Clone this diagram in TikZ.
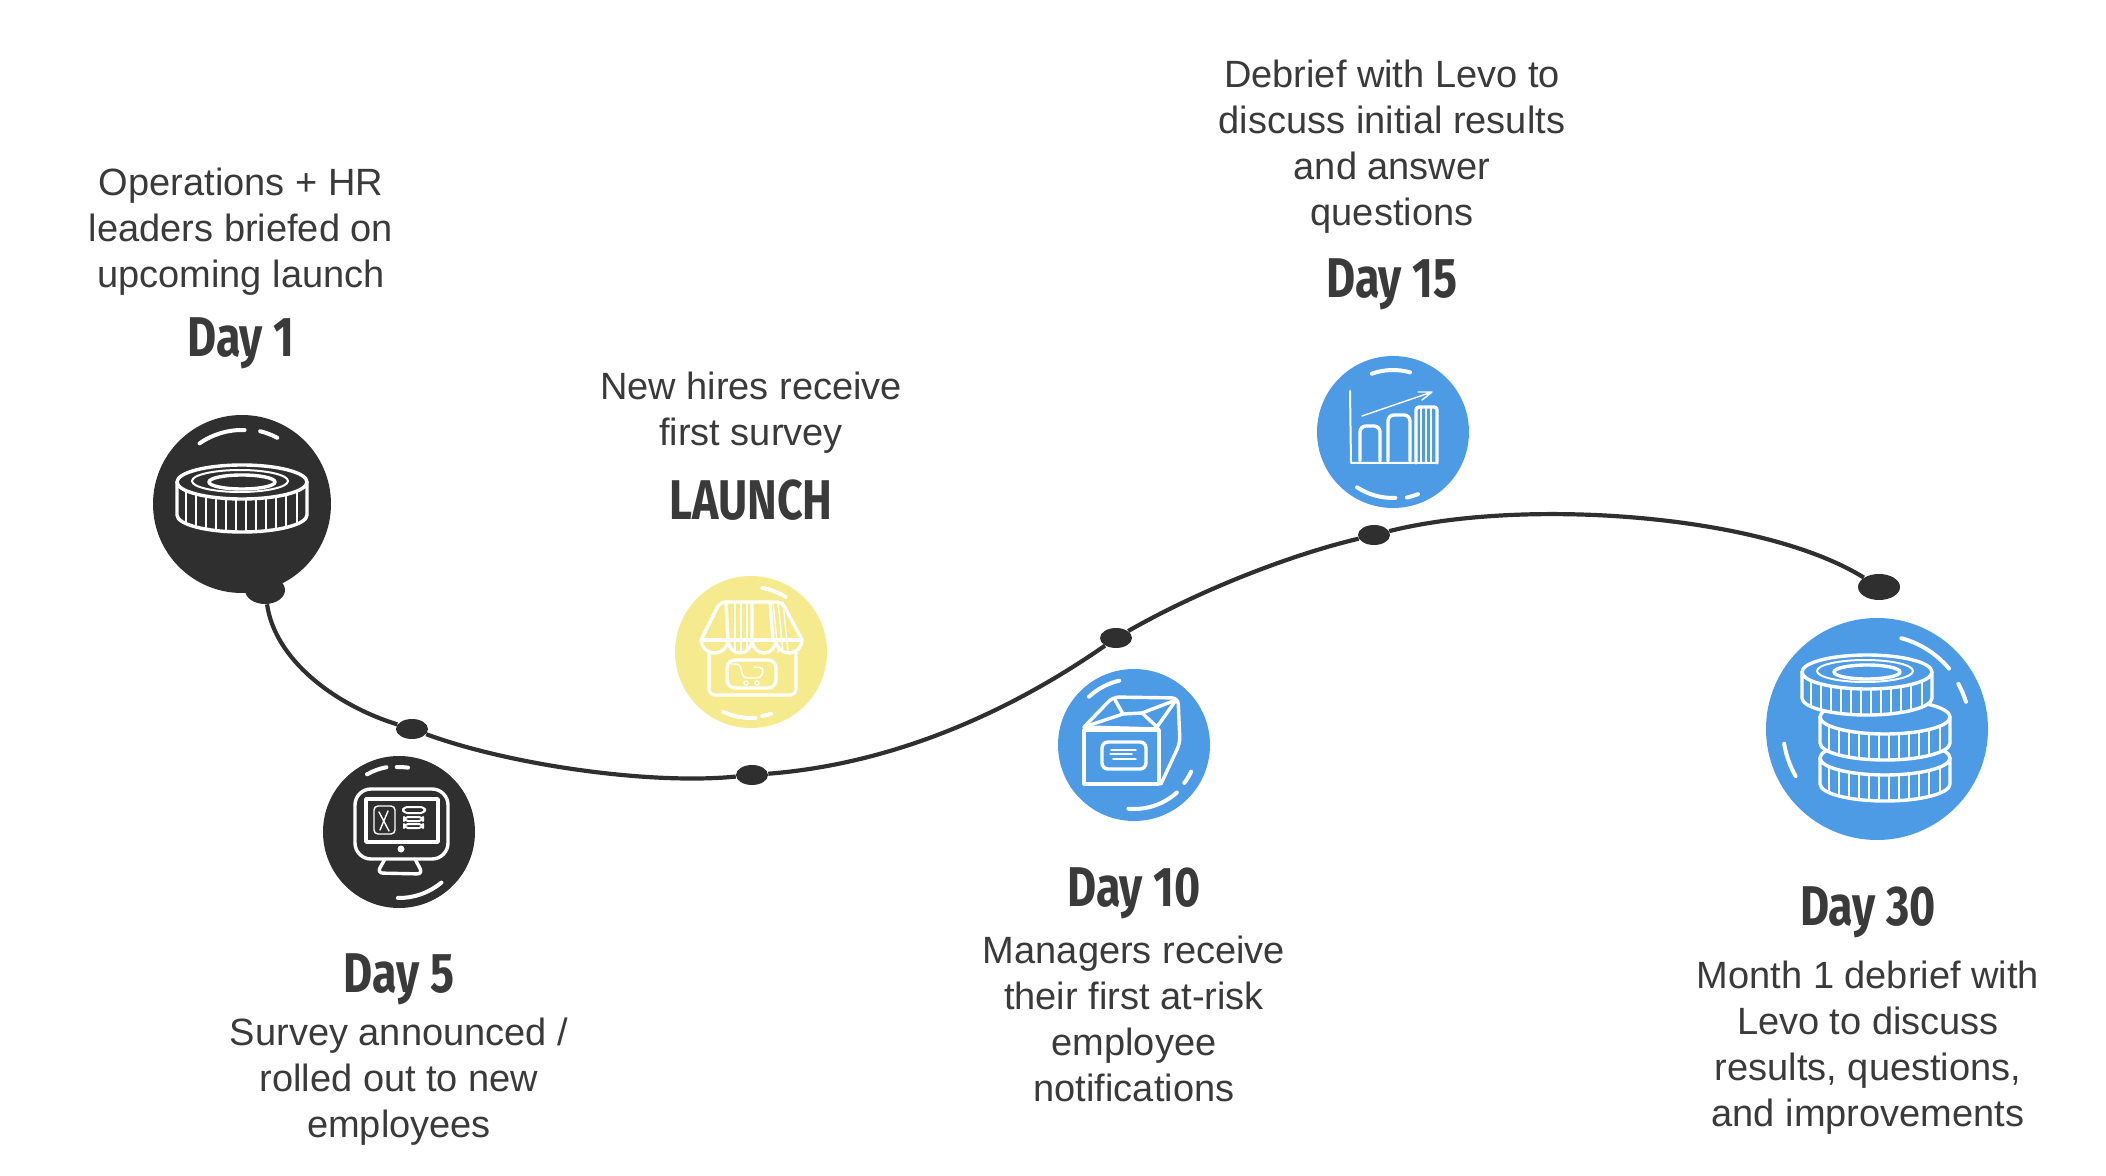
\documentclass[tikz,border=0pt]{standalone}
\usepackage{fontspec}
\setmainfont{Liberation Sans}
\newfontfamily\dayfont[FakeStretch=0.8]{Fira Sans}
\usetikzlibrary{positioning,calc,shapes.geometric}
\definecolor{LevoDark}{HTML}{2F2F2F}
\definecolor{LevoText}{HTML}{3A3A3A}
\definecolor{LevoBlue}{HTML}{4D9AE5}
\definecolor{LevoYellow}{HTML}{F5EA8E}
\tikzset{
  disc/.style={circle, inner sep=0pt, minimum size=152*0.5pt},
  bigdisc/.style={circle, inner sep=0pt, minimum size=222*0.5pt},
  dot/.style={ellipse, fill=LevoDark, inner sep=0pt, minimum width=16pt, minimum height=10pt},
  trail/.style={draw=LevoDark, line width=2.1pt},
  dayhead/.style={font=\dayfont\bfseries\fontsize{28}{32}\selectfont, text=LevoText, inner sep=0pt},
  daytext/.style={font=\fontsize{19}{23}\selectfont, text=LevoText, align=center, inner sep=0pt},
  glint/.style={draw=white, line width=2pt, line cap=round},
  iconline/.style={draw=white, line width=1.7pt, line join=round, line cap=round},
  iconthin/.style={draw=white, line width=0.7pt, line join=round, line cap=round}
}
% one coin: top face centre, side height, fill colour
\newcommand{\coinicon}[4]{
  \begin{scope}[shift={(#1,#2)}]
    \path[fill=#4] (-65,0) -- (-65,#3) arc[start angle=180, end angle=0, x radius=65, y radius=17] -- (65,0) arc[start angle=0, end angle=-180, x radius=65, y radius=17];
    \foreach \sx [evaluate=\sx as \sy using {17*sqrt(1-(\sx/65)^2)}] in {-56,-46,-36,-26,-16,-6,4,14,24,34,44,55}
      \draw[iconthin] (\sx,\sy) -- (\sx,\sy+#3);
    \draw[iconline] (0,0) ellipse[x radius=65, y radius=17];
    \draw[iconline] (-65,0) -- (-65,#3) arc[start angle=180, end angle=0, x radius=65, y radius=17] -- (65,0);
  \end{scope}
}
\newcommand{\coinrings}[2]{
  \begin{scope}[shift={(#1,#2)}]
    \draw[iconline, line width=1pt] (-2,-1) ellipse[x radius=48, y radius=11];
    \draw[iconline] (0,0) ellipse[x radius=33, y radius=7];
  \end{scope}
}
\newcommand{\glintarc}[4]{\draw[glint] ([shift={(#2:#4)}]#1.center) arc[start angle=#2, end angle=#3, radius=#4];}

\begin{document}
\begin{tikzpicture}[x=0.5pt, y=-0.5pt]
\useasboundingbox (0,0) rectangle (2106,1176);

% trail dots
\node[dot, minimum width=20pt, minimum height=14pt] (dotone) at (265,590) {};
\node[dot] (dotfive) at (412,729) {};
\node[dot] (dotlaunch) at (752,775) {};
\node[dot] (dotten) at (1116,638) {};
\node[dot] (dotfifteen) at (1374,535) {};
\node[dot, minimum width=21pt, minimum height=13pt] (dotthirty) at (1879,587) {};

\draw[trail] (dotone) .. controls (275,660) and (335,705) .. (dotfive);
\draw[trail] (dotfive) .. controls (510,765) and (650,785) .. (dotlaunch);
\draw[trail] (dotlaunch) .. controls (880,765) and (995,722) .. (dotten);
\draw[trail] (dotten) .. controls (1200,590) and (1290,555) .. (dotfifteen);
\draw[trail] (dotfifteen) .. controls (1520,498) and (1760,513) .. (dotthirty);

% discs
\node[disc, minimum size=178*0.5pt, fill=LevoDark] (discone) at (242,504) {};
\node[disc, fill=LevoDark] (discfive) at (399,832) {};
\node[disc, fill=LevoYellow] (disclaunch) at (751,652) {};
\node[disc, fill=LevoBlue] (discten) at (1134,745) {};
\node[disc, fill=LevoBlue] (discfifteen) at (1393,432) {};
\node[bigdisc, fill=LevoBlue] (discthirty) at (1877,729) {};

% glints
\glintarc{discone}{235}{272}{74}
\glintarc{discone}{284}{298}{75}
\glintarc{discfive}{241}{259}{66}
\glintarc{discfive}{268}{278}{65}
\glintarc{discfive}{91}{50}{66}
\glintarc{disclaunch}{-80}{-58}{65}
\glintarc{disclaunch}{115}{86}{66}
\glintarc{disclaunch}{80}{72}{65}
\glintarc{discten}{227}{257}{66}
\glintarc{discten}{37}{25}{63}
\glintarc{discten}{95}{48}{64}
\glintarc{discfifteen}{-110}{-74}{62}
\glintarc{discfifteen}{123}{88}{66}
\glintarc{discfifteen}{78}{68}{67}
\glintarc{discthirty}{-75}{-40}{94}
\glintarc{discthirty}{-29}{-17}{93}
\glintarc{discthirty}{171}{150}{94}

% coins
\coinicon{242}{482}{33}{LevoDark}
\coinrings{242}{482}
\coinicon{1885}{758}{26}{LevoBlue}
\coinicon{1885}{717}{26}{LevoBlue}
\coinicon{1867}{672}{26}{LevoBlue}
\coinrings{1867}{672}

% screen
\begin{scope}[shift={(discfive.center)}]
  \draw[iconline, rounded corners=8pt] (-44,-43) rectangle (49,27);
  \draw[iconline] (-33,-33) rectangle (39,10);
  \draw[iconthin, rounded corners=2pt] (-25,-26) rectangle (-4,2);
  \draw[iconthin] (-20,-20) -- (-10,-1) (-11,-21) -- (-19,-2);
  \draw[iconline, line width=1pt, rounded corners=2pt] (4,-25) rectangle (26,-19);
  \draw[iconline, line width=1pt, rounded corners=2pt] (5,-15) rectangle (24,-11);
  \draw[iconline, line width=1pt, rounded corners=2pt] (5,-8) rectangle (24,-4);
  \fill[white] (2,17) circle[radius=3.5];
  \draw[iconline, rounded corners=3pt] (-14,27) -- (-22,41) -- (24,42) -- (16,27);
\end{scope}

% shop
\begin{scope}[shift={(disclaunch.center)}]
  \draw[iconline, rounded corners=3pt] (-50,-12) -- (-31,-50) -- (31,-50) -- (51,-12);
  \draw[iconline] (-50,-12) -- (51,-12);
  \draw[iconline] (-50,-12) arc[start angle=180, end angle=0, x radius=13.5, y radius=13]
    arc[start angle=180, end angle=0, x radius=12, y radius=13]
    arc[start angle=180, end angle=0, x radius=12, y radius=13]
    arc[start angle=180, end angle=0, x radius=13, y radius=13];
  \draw[iconline] (-25,-50) -- (-23,-12) (1,-50) -- (1,-12) (19,-50) -- (22,-12);
  \foreach \hx in {-16,-10,-4}
    \draw[iconthin] (\hx,-50) -- (\hx,0);
  \foreach \hx in {27,32,37}
    \draw[iconthin] (\hx-5,-50) -- (\hx,0);
  \draw[iconline, rounded corners=3pt] (-42,-1) -- (-42,43) -- (45,43) -- (45,-1);
  \draw[iconline, rounded corners=4pt] (-24,8) rectangle (25,36);
  \draw[iconthin, rounded corners=2pt] (-20,12) -- (-11,12) -- (-8,26) -- (10,26) -- (13,16) -- (3,15);
  \draw[iconthin] (-5,31) circle[radius=2] (6,31) circle[radius=2];
\end{scope}

% box
\begin{scope}[shift={(discten.center)}]
  \draw[iconline] (-50,-15) rectangle (25,39);
  \draw[iconline, rounded corners=3pt] (-50,-18) -- (-21,-48) -- (44,-47) -- (46,-2) -- (27,39);
  \draw[iconline] (-50,-18) -- (-11,-31) -- (8,-32) -- (23,-18) -- (42,-45);
  \draw[iconline] (-19,-45) -- (-11,-31) (8,-32) -- (42,-45) (-50,-18) -- (25,-16);
  \draw[iconline, rounded corners=3pt] (-32,-3) rectangle (12,24);
  \draw[iconthin] (-23,5) -- (2,5) (-24,9) -- (-2,9) (-21,14) -- (2,14);
\end{scope}

% chart
\begin{scope}[shift={(discfifteen.center)}]
  \draw[iconthin, line width=1pt] (-43,-41) -- (-42,31) -- (44,31);
  \draw[iconline, rounded corners=3pt] (-33,29) -- (-33,-6) -- (-13,-6) -- (-13,29);
  \draw[iconline, rounded corners=3pt] (-5,29) -- (-5,-17) -- (17,-17) -- (17,29);
  \draw[iconline, rounded corners=1.5pt] (23,31) -- (23,-25) -- (44,-25) -- (44,31);
  \foreach \hx in {28,33,38}
    \draw[iconthin] (\hx,-24) -- (\hx,30);
  \draw[iconthin] (-31,-16) -- (39,-40) -- (25,-40) (39,-40) -- (29,-32);
\end{scope}

% labels
\node[dayhead] (headone) at (241,343) {Day 1};
\node[daytext, above=10.6pt of headone] (textone) {Operations + HR\\leaders briefed on\\upcoming launch};
\node[dayhead] (headfive) at (399,979) {Day 5};
\node[daytext, below=6.3pt of headfive] (textfive) {Survey announced /\\rolled out to new\\employees};
\node[dayhead] (headlaunch) at (751,500) {LAUNCH};
\node[daytext, above=12.6pt of headlaunch] (textlaunch) {New hires receive\\first survey};
\node[dayhead] (headten) at (1134,893) {Day 10};
\node[daytext, below=8.3pt of headten] (textten) {Managers receive\\their first at-risk\\employee\\notifications};
\node[dayhead] (headfifteen) at (1392,284) {Day 15};
\node[daytext, above=12pt of headfifteen] (textfifteen) {Debrief with Levo to\\discuss initial results\\and answer\\questions};
\node[dayhead] (headthirty) at (1868,912) {Day 30};
\node[daytext, below=11.3pt of headthirty] (textthirty) {Month 1 debrief with\\Levo to discuss\\results, questions,\\and improvements};
\end{tikzpicture}
\end{document}
